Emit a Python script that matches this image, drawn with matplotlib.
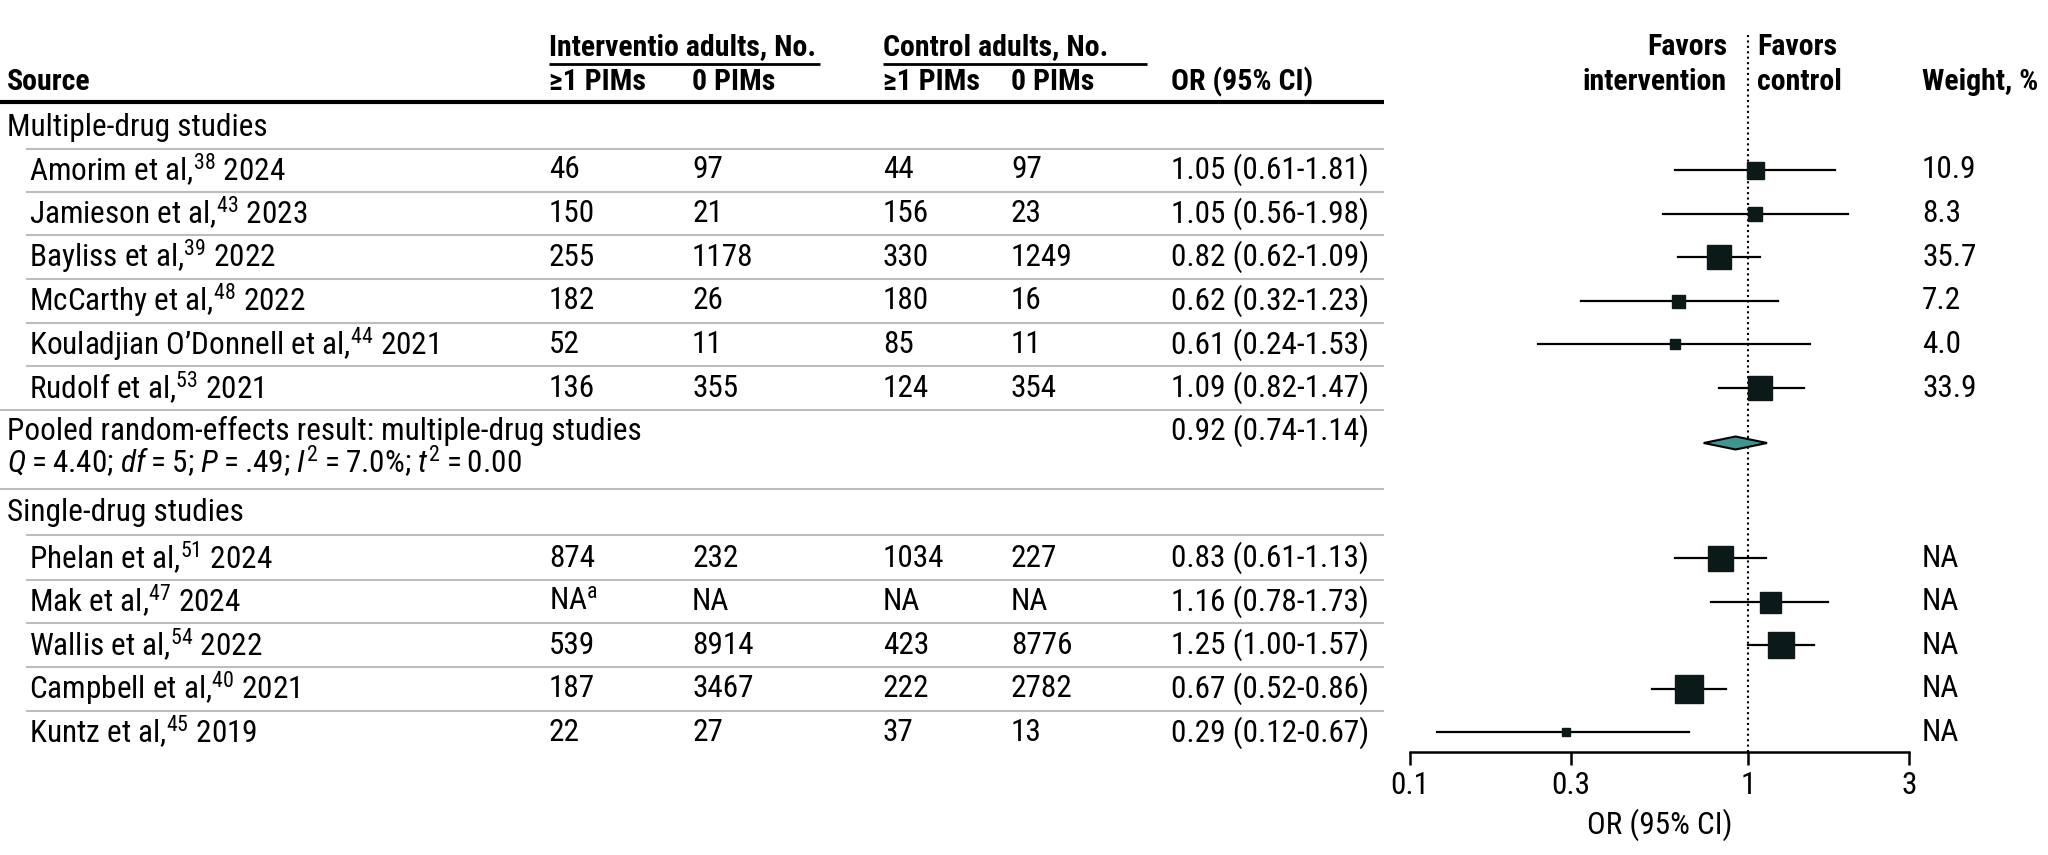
import matplotlib
matplotlib.use("Agg")
import matplotlib.pyplot as plt
from matplotlib import font_manager

##### Data ######
multi_names = ["Amorim et al", "Jamieson et al", "Bayliss et al", "McCarthy et al",
               "Kouladjian O\u2019Donnell et al", "Rudolf et al"]
multi_refs = ["38", "43", "39", "48", "44", "53"]
multi_years = ["2024", "2023", "2022", "2022", "2021", "2021"]
multi_int_pos = ["46", "150", "255", "182", "52", "136"]
multi_int_zero = ["97", "21", "1178", "26", "11", "355"]
multi_ctl_pos = ["44", "156", "330", "180", "85", "124"]
multi_ctl_zero = ["97", "23", "1249", "16", "11", "354"]
multi_or = [1.05, 1.05, 0.82, 0.62, 0.61, 1.09]
multi_lo = [0.61, 0.56, 0.62, 0.32, 0.24, 0.82]
multi_hi = [1.81, 1.98, 1.09, 1.23, 1.53, 1.47]
multi_weight = ["10.9", "8.3", "35.7", "7.2", "4.0", "33.9"]

pooled_or, pooled_lo, pooled_hi = 0.92, 0.74, 1.14
pooled_stats = ("$Q$\u2009=\u20094.40; $df$\u2009=\u20095; $P$\u2009=\u2009.49; "
                "$I^{2}$\u2009=\u20097.0%; $t^{2}$\u2009=\u20090.00")

single_names = ["Phelan et al", "Mak et al", "Wallis et al", "Campbell et al", "Kuntz et al"]
single_refs = ["51", "47", "54", "40", "45"]
single_years = ["2024", "2024", "2022", "2021", "2019"]
single_int_pos = ["874", "NA$^{\\mathrm{a}}$", "539", "187", "22"]
single_int_zero = ["232", "NA", "8914", "3467", "27"]
single_ctl_pos = ["1034", "NA", "423", "222", "37"]
single_ctl_zero = ["227", "NA", "8776", "2782", "13"]
single_or = [0.83, 1.16, 1.25, 0.67, 0.29]
single_lo = [0.61, 0.78, 1.00, 0.52, 0.12]
single_hi = [1.13, 1.73, 1.57, 0.86, 0.67]
single_weight = ["NA", "NA", "NA", "NA", "NA"]

ticks = [0.1, 0.3, 1, 3]
tick_labels = ["0.1", "0.3", "1", "3"]
#################

# box sizes (px) as drawn in the figure
multi_box = [17, 14, 24, 13, 10, 24]
single_box = [25, 21, 27, 28, 8]

W, H = 2048, 855
BOX_COLOR = "#0b1a18"
DIAMOND_COLOR = "#3f9691"
GRID = "#bdbdbd"

# pick a narrow font if one is installed
fonts = font_manager.fontManager.ttflist
names = set(f.name for f in fonts)
if "Liberation Sans Narrow" in names:
    FONT, FS, FSH = "Liberation Sans Narrow", 21.5, 21
elif "Roboto Condensed" in names:
    FONT, FS, FSH = "Roboto Condensed", 22.5, 21.5
else:
    FONT, FS, FSH = "Liberation Sans", 19, 18

plt.rcParams["font.family"] = [FONT, "DejaVu Sans"]
plt.rcParams["mathtext.fontset"] = "custom"
plt.rcParams["mathtext.rm"] = FONT
plt.rcParams["mathtext.it"] = FONT + ":italic"
plt.rcParams["mathtext.bf"] = FONT + ":bold"

fig = plt.figure(figsize=(W / 100, H / 100), dpi=100)
ax = fig.add_axes([0, 0, 1, 1])
ax.set_xlim(0, W)
ax.set_ylim(H, 0)
ax.axis("off")

# column x positions
X_SEC, X_STUDY = 7, 29
X_IP, X_IZ, X_CP, X_CZ, X_OR = 549, 692, 883, 1011, 1171
X_W = 1922
X_END = 1384

AX_X0, AX_X1, AX_Y = 1410, 1909, 752
TOP = 35

def txt(x, y, s, **kw):
    ax.text(x, y, s, fontsize=kw.pop("fontsize", FS), va="center", **kw)

def head(x, y, s, **kw):
    txt(x, y, s, fontsize=FSH, fontweight="bold", **kw)

def hline(y, x0, x1=X_END, color=GRID, lw=1.5):
    ax.plot([x0, x1], [y, y], color=color, lw=lw, solid_capstyle="butt")

# header
head(X_IP, 47, "Interventio adults, No.")
head(X_CP, 47, "Control adults, No.")
hline(64, X_IP, 820, color="black", lw=2)
hline(64, X_CP, 1147, color="black", lw=2)
head(X_SEC, 82, "Source")
for x, s in [(X_IP, "\u22651 PIMs"), (X_IZ, "0 PIMs"), (X_CP, "\u22651 PIMs"),
             (X_CZ, "0 PIMs"), (X_OR, "OR (95% CI)")]:
    head(x, 82, s)
hline(102, 0, color="black", lw=3)
head(1727, 47, "Favors", ha="right")
head(1727, 82, "intervention", ha="right")
head(1757, 47, "Favors")
head(1757, 82, "control")
head(X_W, 82, "Weight, %")

# forest axis
fx = fig.add_axes([AX_X0 / W, 1 - AX_Y / H, (AX_X1 - AX_X0) / W, (AX_Y - TOP) / H])
fx.set_xscale("log")
fx.set_xlim(0.1, 3)
fx.set_ylim(AX_Y, TOP)
fx.patch.set_alpha(0)
for sp in ["left", "right", "top"]:
    fx.spines[sp].set_visible(False)
fx.spines["bottom"].set_linewidth(1.8)
fx.set_yticks([])
fx.set_xticks(ticks)
fx.set_xticklabels(tick_labels)
fx.minorticks_off()
fx.tick_params(axis="x", direction="out", length=9, width=1.8, labelsize=FS, pad=5)
fx.set_xlabel("OR (95% CI)", fontsize=FS, labelpad=6)
fx.plot([1, 1], [TOP, AX_Y], color="black", lw=1.5, ls=(0, (1, 1.6)), clip_on=False)

def study_rows(y0, nm, rf, yr, ip, iz, cp, cz, o, lo, hi, wt, box):
    for i in range(len(nm)):
        y = y0 + i * 43.6
        txt(X_STUDY, y, nm[i] + ",$^{\\mathrm{" + rf[i] + "}}$ " + yr[i])
        txt(X_IP, y, ip[i])
        txt(X_IZ, y, iz[i])
        txt(X_CP, y, cp[i])
        txt(X_CZ, y, cz[i])
        txt(X_OR, y, "%.2f (%.2f-%.2f)" % (o[i], lo[i], hi[i]))
        txt(X_W, y, wt[i])
        fx.plot([lo[i], hi[i]], [y, y], color="black", lw=1.6, clip_on=False, zorder=2)
        fx.plot([o[i]], [y], marker="s", ms=box[i] * 0.72, color=BOX_COLOR,
                mec=BOX_COLOR, clip_on=False, zorder=3)
        if i < len(nm) - 1:
            hline(y + 21.8, 26)

# multiple-drug studies
txt(X_SEC, 127, "Multiple-drug studies")
hline(149, 26)
study_rows(170, multi_names, multi_refs, multi_years, multi_int_pos, multi_int_zero,
           multi_ctl_pos, multi_ctl_zero, multi_or, multi_lo, multi_hi,
           multi_weight, multi_box)

# pooled
hline(410, 0)
txt(X_SEC, 431, "Pooled random-effects result: multiple-drug studies")
txt(X_SEC, 462, pooled_stats)
txt(X_OR, 431, "%.2f (%.2f-%.2f)" % (pooled_or, pooled_lo, pooled_hi))
yd = 443
fx.fill([pooled_lo, pooled_or, pooled_hi, pooled_or], [yd, yd - 6.5, yd, yd + 6.5],
        facecolor=DIAMOND_COLOR, edgecolor="black", lw=1.5, clip_on=False, zorder=3)

# single-drug studies
hline(489, 0)
txt(X_SEC, 512, "Single-drug studies")
hline(535, 26)
study_rows(558, single_names, single_refs, single_years, single_int_pos, single_int_zero,
           single_ctl_pos, single_ctl_zero, single_or, single_lo, single_hi,
           single_weight, single_box)

fig.savefig("out.png", dpi=100)
